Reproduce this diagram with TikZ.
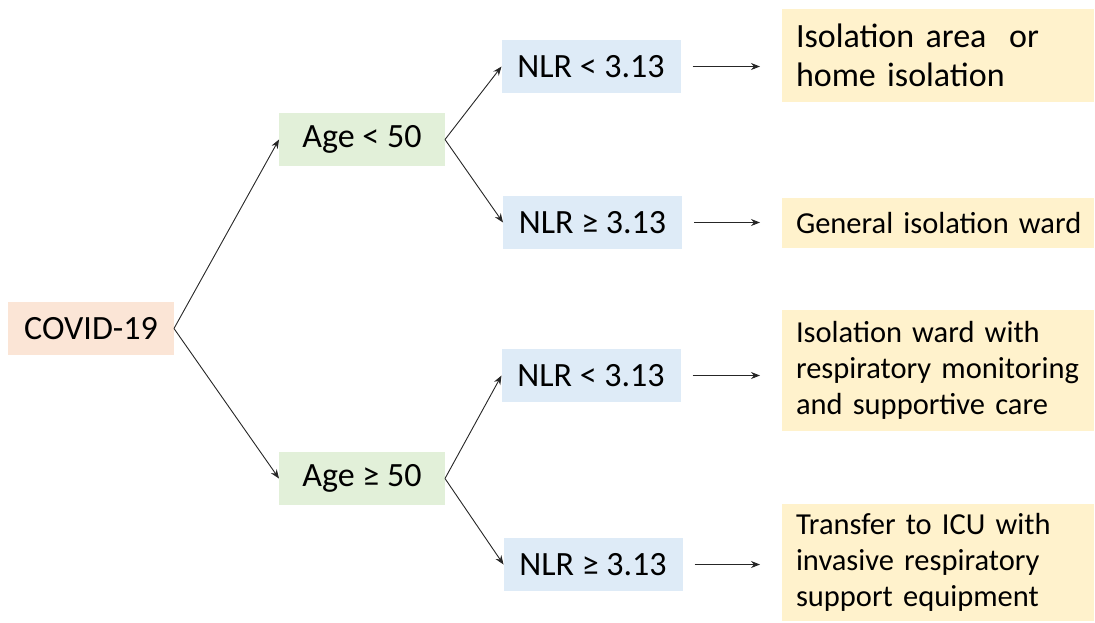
\documentclass[tikz,border=0pt]{standalone}
\usepackage{fontspec}
\setmainfont{Carlito}
\usetikzlibrary{arrows.meta}
\definecolor{covidfill}{HTML}{FBE5D6}
\definecolor{agefill}{HTML}{E2F0D9}
\definecolor{nlrfill}{HTML}{DEEBF7}
\definecolor{outfill}{HTML}{FFF2CC}
\tikzset{
  box/.style={inner sep=0pt, outer sep=0pt, minimum height=53pt, font=\fontsize{34}{40}\selectfont, text=black},
  covidbox/.style={box, fill=covidfill, minimum width=166pt},
  agebox/.style={box, fill=agefill, minimum width=166pt},
  nlrbox/.style={box, fill=nlrfill, minimum width=179pt},
  outbox/.style={fill=outfill, inner xsep=14pt, inner ysep=0pt, outer sep=0pt, text width=284pt, align=left, font=\fontsize{30.5}{36}\selectfont, text=black},
  arr/.style={draw=black!85, line width=0.9pt, -{Stealth[length=9pt,width=7pt]}}
}
\begin{document}
\begin{tikzpicture}[x=1pt,y=-1pt]
\useasboundingbox (0,0) rectangle (1095,622);
\node[covidbox] (covid) at (91,328.5) {COVID-19};
\node[agebox] (age1) at (362,139.5) {Age < 50};
\node[agebox] (age2) at (362,478.5) {Age ≥ 50};
\node[nlrbox] (n1) at (591,66.5) {NLR < 3.13};
\node[nlrbox] (n2) at (592.5,222.5) {NLR ≥ 3.13};
\node[nlrbox] (n3) at (591,375.5) {NLR < 3.13};
\node[nlrbox] (n4) at (593,564.5) {NLR ≥ 3.13};
\node[outbox, minimum height=93pt, font=\fontsize{34}{39}\selectfont] (o1) at (938,55.5) {\mbox{Isolation area\ \ or}\\\mbox{home isolation}};
\node[outbox, minimum height=50pt] (o2) at (938,223) {\mbox{General isolation ward}};
\node[outbox, minimum height=121pt] (o3) at (938,370.5) {\mbox{Isolation ward with}\\\mbox{respiratory monitoring}\\\mbox{and supportive care}};
\node[outbox, minimum height=117pt] (o4) at (938,562.5) {\mbox{Transfer to ICU with}\\\mbox{invasive respiratory}\\\mbox{support equipment}};
\draw[arr] (covid.east) -- (age1.west);
\draw[arr] (covid.east) -- (age2.west);
\draw[arr] (age1.east) -- (n1.west);
\draw[arr] (age1.east) -- (n2.west);
\draw[arr] (age2.east) -- (n3.west);
\draw[arr] (age2.east) -- (n4.west);
\foreach \a/\b in {n1/o1,n2/o2,n3/o3,n4/o4}
  \draw[arr, shorten <=12pt, shorten >=22pt] (\a.east) -- (\a.east -| \b.west);
\end{tikzpicture}
\end{document}
